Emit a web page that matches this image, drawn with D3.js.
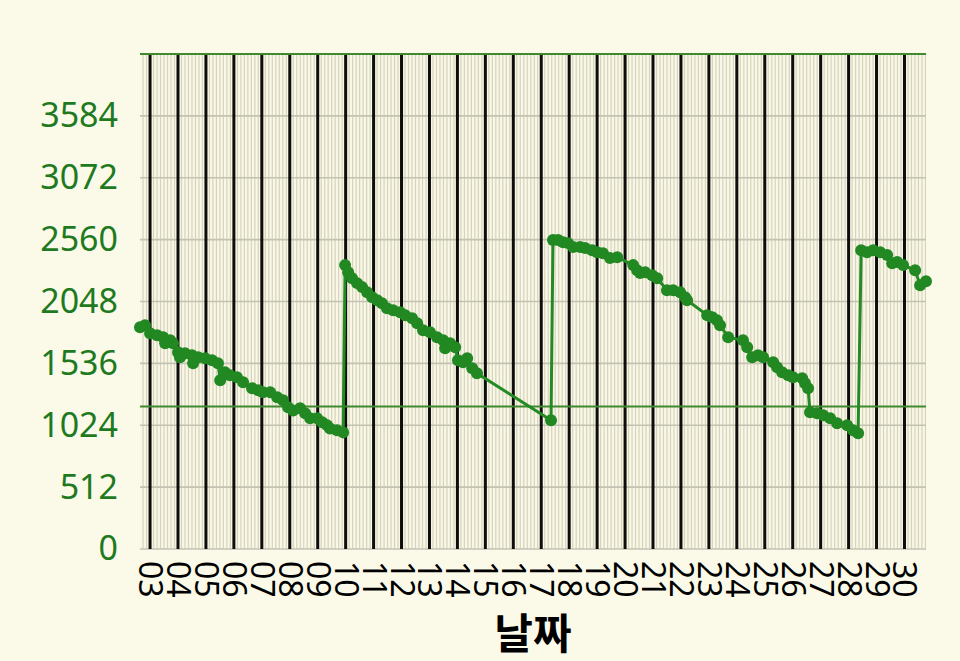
<!DOCTYPE html>
<html>
<head>
<meta charset="utf-8">
<script src="https://cdn.jsdelivr.net/npm/d3@7"></script>
<style>
  html, body { margin: 0; padding: 0; background: #fbfae9; }
  svg { display: block; }
</style>
</head>
<body>
<svg id="chart" width="960" height="661"></svg>
<script>
// ---- DATA (day of month with fraction, value) ----
const days = [
  2.64, 2.82, 3.00, 3.25, 3.47, 3.54, 3.72, 3.82, 4.00, 4.07, 4.25, 4.50, 4.54, 4.72, 4.97,
  5.22, 5.43, 5.51, 5.68, 5.86, 6.11, 6.33, 6.65, 6.87, 7.04, 7.30, 7.55, 7.76, 7.94, 8.12,
  8.37, 8.55, 8.73, 8.98, 9.16, 9.34, 9.44, 9.69, 9.91,
  9.98, 10.09, 10.23, 10.41, 10.59, 10.77, 10.95, 11.13, 11.30, 11.48, 11.70, 11.95, 12.13,
  12.38, 12.56, 12.77, 13.02, 13.27, 13.49, 13.56, 13.74, 13.92, 14.02, 14.20, 14.35, 14.53,
  14.70, 17.35,
  17.42, 17.60, 17.78, 17.96, 18.14, 18.39, 18.57, 18.82, 19.00, 19.21, 19.46, 19.72, 20.29,
  20.43, 20.54, 20.72, 20.97, 21.15, 21.50, 21.72, 21.97, 22.15, 22.22, 22.94, 23.12, 23.29,
  23.40, 23.69, 24.22, 24.37, 24.55, 24.76, 24.94, 25.30, 25.44, 25.62, 25.84, 26.01, 26.34,
  26.44, 26.55, 26.62, 26.87, 27.09, 27.34, 27.59, 27.95, 28.16, 28.34,
  28.45, 28.66, 28.88, 29.13, 29.38, 29.56, 29.74, 29.95, 30.38, 30.56, 30.77
];
const values = [
  1835, 1852, 1785, 1769, 1752, 1703, 1727, 1703, 1628, 1587, 1620, 1603, 1537, 1587, 1578,
  1562, 1537, 1396, 1462, 1437, 1421, 1380, 1330, 1313, 1297, 1297, 1255, 1230, 1172, 1147,
  1164, 1123, 1081, 1081, 1048, 1023, 998, 982, 965,
  2349, 2291, 2241, 2200, 2167, 2125, 2084, 2059, 2034, 1993, 1976, 1960, 1935,
  1910, 1868, 1810, 1794, 1752, 1727, 1661, 1703, 1669, 1562, 1545, 1578, 1495,
  1454, 1065,
  2556, 2556, 2539, 2531, 2498, 2498, 2490, 2473, 2456, 2448, 2407, 2415, 2349,
  2307, 2283, 2291, 2266, 2241, 2142, 2142, 2125, 2084, 2059, 1935, 1918, 1893,
  1852, 1752, 1727, 1669, 1587, 1603, 1587, 1545, 1504, 1462, 1437, 1421, 1413,
  1371, 1330, 1131, 1123, 1106, 1081, 1040, 1023, 982, 957,
  2473, 2456, 2473, 2456, 2432, 2365, 2374, 2349, 2307, 2183, 2216
];
const yTicks = [0, 512, 1024, 1536, 2048, 2560, 3072, 3584];
const yMax = 4096;
const refValue = 1180;
const xTitle = "날짜";
const monthStart = new Date(2023, 4, 1); // month of the readings

// ---- BUILD ----
const data = days.map((d, i) => ({
  t: new Date(monthStart.getTime() + (d - 1) * 864e5),
  v: values[i]
}));

const svg = d3.select("#chart");
const W = 960, H = 661;
const m = { left: 140, right: 34, top: 54, bottom: 112 };
const pw = W - m.left - m.right, ph = H - m.top - m.bottom;

const x = d3.scaleTime().domain(d3.extent(data, d => d.t)).range([m.left, m.left + pw]);
const y = d3.scaleLinear().domain([0, yMax]).range([m.top + ph, m.top]);

svg.append("rect").attr("width", W).attr("height", H).attr("fill", "#fbfae9");
svg.append("rect").attr("x", m.left).attr("y", m.top).attr("width", pw).attr("height", ph)
  .attr("fill", "#f9f7e5");

// minor vertical grid (every 3 hours)
svg.append("g").selectAll("line").data(x.ticks(d3.timeHour.every(3))).join("line")
  .attr("x1", d => x(d)).attr("x2", d => x(d))
  .attr("y1", m.top).attr("y2", m.top + ph)
  .attr("stroke", "#d6d4be").attr("stroke-width", 1.2);

// horizontal grid
svg.append("g").selectAll("line").data(yTicks).join("line")
  .attr("x1", m.left).attr("x2", m.left + pw)
  .attr("y1", d => y(d)).attr("y2", d => y(d))
  .attr("stroke", "#c4c2b2").attr("stroke-width", 1.6);

// major vertical lines (days)
const dayTicks = x.ticks(d3.timeDay.every(1));
svg.append("g").selectAll("line").data(dayTicks).join("line")
  .attr("x1", d => x(d)).attr("x2", d => x(d))
  .attr("y1", m.top).attr("y2", m.top + ph)
  .attr("stroke", "#0d0d0d").attr("stroke-width", 3);

// green lines: top and reference
svg.append("g").selectAll("line").data([yMax, refValue]).join("line")
  .attr("x1", m.left).attr("x2", m.left + pw)
  .attr("y1", d => y(d)).attr("y2", d => y(d))
  .attr("stroke", "#3f8a2f").attr("stroke-width", 2);

// y axis
const yAxis = d3.axisLeft(y).tickValues(yTicks).tickFormat(d3.format("d")).tickSize(0).tickPadding(22);
const gy = svg.append("g").attr("transform", `translate(${m.left},0)`).call(yAxis);
gy.select(".domain").remove();
gy.selectAll("text").attr("fill", "#1f7a1f")
  .style("font-family", "'Noto Sans', sans-serif").style("font-size", "34px");

// x axis
const xAxis = d3.axisBottom(x).tickValues(dayTicks).tickFormat(d3.timeFormat("%d")).tickSize(0);
const gx = svg.append("g").attr("transform", `translate(0,${m.top + ph})`).call(xAxis);
gx.select(".domain").remove();
gx.selectAll("text")
  .attr("fill", "#000")
  .style("font-family", "'Noto Sans', sans-serif").style("font-size", "32px")
  .attr("text-anchor", "start")
  .attr("dy", "0.36em")
  .attr("transform", "translate(0,12) rotate(90)")
  .attr("y", 0).attr("x", 0);

// x title
svg.append("text").attr("x", m.left + pw / 2).attr("y", 649)
  .attr("text-anchor", "middle")
  .style("font-family", "'Noto Sans CJK KR', sans-serif")
  .style("font-weight", "bold").style("font-size", "42px")
  .attr("fill", "#000").text(xTitle);

// data line
const line = d3.line().x(d => x(d.t)).y(d => y(d.v));
svg.append("path").datum(data).attr("d", line)
  .attr("fill", "none").attr("stroke", "#248a24").attr("stroke-width", 3);

svg.append("g").selectAll("circle").data(data).join("circle")
  .attr("cx", d => x(d.t)).attr("cy", d => y(d.v)).attr("r", 6)
  .attr("fill", "#228822");
</script>
</body>
</html>
